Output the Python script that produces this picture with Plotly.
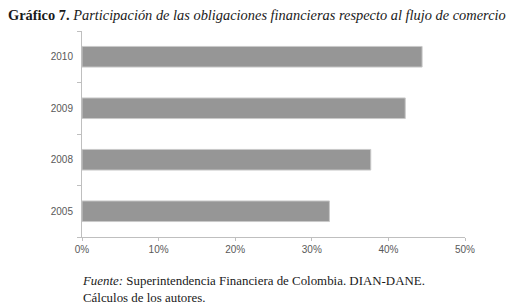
import plotly.graph_objects as go

years = ["2005", "2008", "2009", "2010"]
shares = [0.323, 0.377, 0.422, 0.444]
x_ticks = [0, 0.1, 0.2, 0.3, 0.4, 0.5]
x_tick_labels = ["0%", "10%", "20%", "30%", "40%", "50%"]

title_html = ("<b>Gráfico 7.</b> <i>Participación de las obligaciones financieras "
              "respecto al flujo de comercio</i>")
source_html = ("<i>Fuente:</i> Superintendencia Financiera de Colombia. DIAN-DANE.<br>"
               "Cálculos de los autores.")

fig = go.Figure()
fig.add_trace(go.Bar(
    x=shares, y=years, orientation="h",
    marker=dict(color="#969696", line=dict(color="#c9c9c9", width=1)),
    width=0.4,
))

axis_font = dict(family="Liberation Sans, Arial, sans-serif", size=10, color="#595959")

# page has an 8px body margin: figure is offset by 8px
fig.update_layout(
    width=515, height=298,
    margin=dict(l=74, r=58, t=23, b=69),
    paper_bgcolor="white", plot_bgcolor="white",
    showlegend=False,
    xaxis=dict(
        range=[0, 0.5], tickvals=x_ticks, ticktext=x_tick_labels,
        showgrid=False, zeroline=False,
        showline=True, linecolor="#bfbfbf", linewidth=1,
        ticks="outside", ticklen=3, tickcolor="#bfbfbf",
        tickfont=axis_font, fixedrange=True,
    ),
    yaxis=dict(
        type="category", categoryorder="array", categoryarray=years,
        range=[-0.5, 3.5],
        showgrid=False, zeroline=False,
        showline=True, linecolor="#bfbfbf", linewidth=1,
        ticks="outside", ticklen=4, tickcolor="#bfbfbf", tickson="boundaries",
        tickfont=axis_font, ticklabelstandoff=6, fixedrange=True,
    ),
    annotations=[
        dict(text=title_html, xref="paper", yref="paper", x=-76/383, y=1 + 16/206,
             xanchor="left", yanchor="middle", showarrow=False, align="left",
             font=dict(family="Liberation Serif, Times New Roman, serif", size=14.4, color="#1a1a1a")),
        dict(text=source_html, xref="paper", yref="paper", x=-2/383, y=-35/206,
             xanchor="left", yanchor="top", showarrow=False, align="left",
             font=dict(family="Liberation Serif, Times New Roman, serif", size=12.9, color="#1a1a1a")),
    ],
)

fig.write_html("out.html")
